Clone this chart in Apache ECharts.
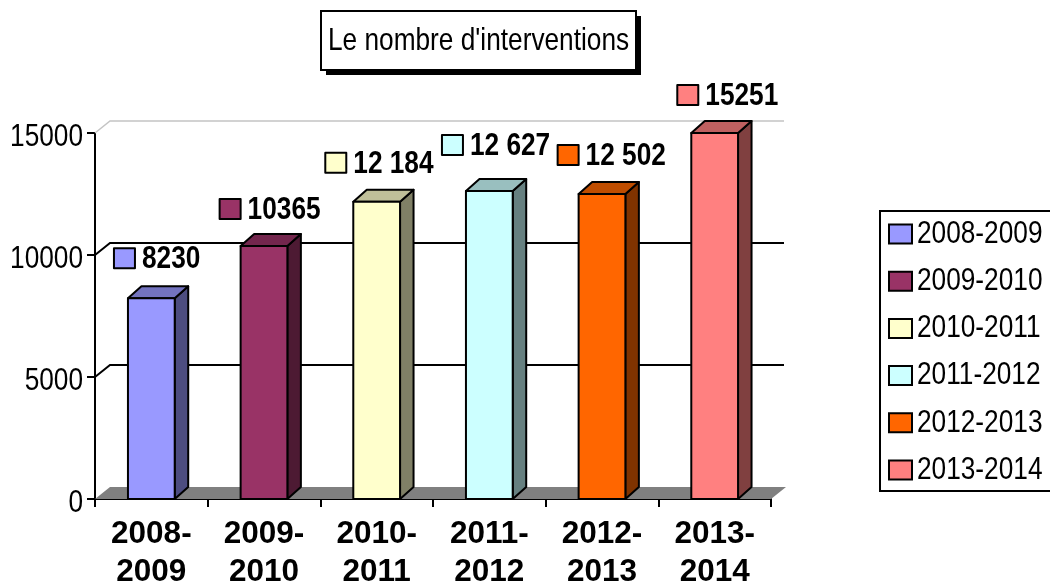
<!DOCTYPE html>
<html>
<head>
<meta charset="utf-8">
<style>html,body{margin:0;padding:0;background:#fff;overflow:hidden}</style>
<script src="https://cdn.jsdelivr.net/npm/echarts@6/dist/echarts.min.js"></script>
</head>
<body>
<div id="main" style="width:1050px;height:588px"></div>
<script>
const categories = ["2008-2009", "2009-2010", "2010-2011", "2011-2012", "2012-2013", "2013-2014"];
const values = [8230, 10365, 12184, 12627, 12502, 15251];
const valueLabels = ["8230", "10365", "12 184", "12 627", "12 502", "15251"];
const frontColors = ["#9999FF", "#993366", "#FFFFCC", "#CCFFFF", "#FF6600", "#FF8080"];
const topColors = ["#7373BF", "#73264D", "#BFBF99", "#99BFBF", "#BF4D00", "#BF6060"];
const sideColors = ["#4D4D80", "#4D1A33", "#808066", "#668080", "#803300", "#804040"];
const wallTicks = [0, 5000, 10000, 15000];

const axisMax = 15000;
const wallDepthX = 15;
const barDepthX = 13.5;
const depthY = 12;
// no narrow font installed: text in this family gets squeezed after the render
const narrow = "Liberation Sans, Arial";
const narrowScale = 0.82;
// label placement, relative to the left and top of each bar
const labelNudge = [[-14, -40], [-21, -37], [-28, -39], [-24, -46], [-21, -39], [-14, -38]];

function renderWall(params, api){
	const box = params.coordSys;
	const left = box.x, right = box.x + box.width;
	const val = api.value(0);
	const y = api.coord([0, val])[1];
	if(val == 0){
		return {type: "polygon", shape: {points: [[left, y], [left + wallDepthX, y - depthY], [right + wallDepthX, y - depthY], [right, y]]},
			style: {fill: "#808080", stroke: null}};
	}
	const color = val == axisMax ? "#c4c4c4" : "#000";
	return {type: "polyline", shape: {points: [[left, y], [left + wallDepthX, y - depthY], [right + wallDepthX - 2, y - depthY]]},
		style: {fill: null, stroke: color, lineWidth: val == axisMax ? 1.5 : 2}};
}

function renderBar(idx){
	return function(params, api){
		const center = api.coord([idx, 0]);
		const base = center[1];
		const top = api.coord([idx, Math.min(api.value(1), axisMax)])[1];
		const w = api.size([1, 0])[0] * 0.415;
		const l = center[0] - w / 2, r = center[0] + w / 2;
		const line = {stroke: "#000", lineWidth: 2, lineJoin: "round"};
		const nudge = labelNudge[idx];
		const labelY = top + nudge[1];
		const labelX = l + nudge[0];
		return {type: "group", children: [
			{type: "polygon", shape: {points: [[r, base], [r + barDepthX, base - depthY], [r + barDepthX, top - depthY], [r, top]]},
				style: Object.assign({fill: sideColors[idx]}, line)},
			{type: "polygon", shape: {points: [[l, top], [l + barDepthX, top - depthY], [r + barDepthX, top - depthY], [r, top]]},
				style: Object.assign({fill: topColors[idx]}, line)},
			{type: "rect", shape: {x: l, y: top, width: w, height: base - top},
				style: Object.assign({fill: frontColors[idx]}, line)},
			{type: "rect", shape: {x: labelX, y: labelY - 10, width: 21, height: 20},
				style: Object.assign({fill: frontColors[idx]}, line)},
			{type: "text", style: {x: labelX + 28, y: labelY + 1, text: valueLabels[idx], fill: "#000",
				fontFamily: narrow, fontWeight: "bold", fontSize: 32, align: "left", verticalAlign: "middle"}}
		]};
	};
}

const series = [{type: "custom", name: "wall", silent: true, z: 1, renderItem: renderWall,
	data: wallTicks.map(function(t){return [t];}), encode: {y: 0}}];
for(let i = 0; i < categories.length; i++){
	series.push({type: "custom", name: categories[i], z: 3, silent: true, renderItem: renderBar(i),
		itemStyle: {color: frontColors[i]},
		data: [[i, values[i]]], encode: {x: 0, y: 1}});
}

const mychart = echarts.init(document.getElementById("main"), null, {renderer: "canvas"});
mychart.setOption({
	animation: false,
	backgroundColor: "#fff",
	graphic: [
		{type: "rect", z: 0, shape: {x: 326, y: 16, width: 315, height: 59}, style: {fill: "#000"}},
		{type: "rect", z: 0, shape: {x: 321, y: 11, width: 315, height: 59}, style: {fill: "#fff", stroke: "#000", lineWidth: 2}}
	],
	title: {text: "Le nombre d'interventions", left: 328, top: 25, padding: 0, z: 10,
		textStyle: {fontFamily: narrow, fontWeight: "normal", fontSize: 32, color: "#000"}},
	legend: {orient: "vertical", left: 880, top: 211, padding: [7, 20, 5, 8],
		borderColor: "#000", borderWidth: 2, backgroundColor: "#fff",
		itemWidth: 23, itemHeight: 19, itemGap: 15.2,
		data: categories.map(function(c){return {name: c, icon: "rect"};}),
		itemStyle: {borderColor: "#000", borderWidth: 2},
		textStyle: {fontFamily: narrow, fontSize: 32, color: "#000"}},
	grid: {left: 95, top: 133, width: 676, height: 366, outerBoundsMode: "none"},
	xAxis: {type: "category", data: categories,
		axisLine: {lineStyle: {color: "#000", width: 2}},
		axisTick: {show: true, length: 8, lineStyle: {color: "#000", width: 2}},
		axisLabel: {interval: 0, margin: 16, color: "#000", fontFamily: "Liberation Sans", fontWeight: "bold", fontSize: 31.5, lineHeight: 38.5,
			formatter: function(v){return v.replace("-", "-\n");}}},
	yAxis: {type: "value", min: 0, max: axisMax, interval: 5000,
		axisLine: {show: true, lineStyle: {color: "#000", width: 2}},
		axisTick: {show: true, length: 8, lineStyle: {color: "#000", width: 2}},
		splitLine: {show: false},
		axisLabel: {margin: 12, color: "#000", fontFamily: narrow, fontSize: 32,
			formatter: function(v){return String(v);}}},
	series: series
});

// squeeze the narrow text, each one around its own anchor
const zr = mychart.getZr();
zr.storage.getRoots().forEach(function(root){
	root.traverse(function(el){
		if(el.style && el.style.fontFamily == narrow){
			el.originX = el.style.x || 0;
			el.scaleX = narrowScale;
			// the y tick labels sit a little under their ticks in the original
			if(el.style.align == "right"){
				el.y += 4;
			}
			el.dirty();
		}
	});
});
zr.flush();
</script>
</body>
</html>
